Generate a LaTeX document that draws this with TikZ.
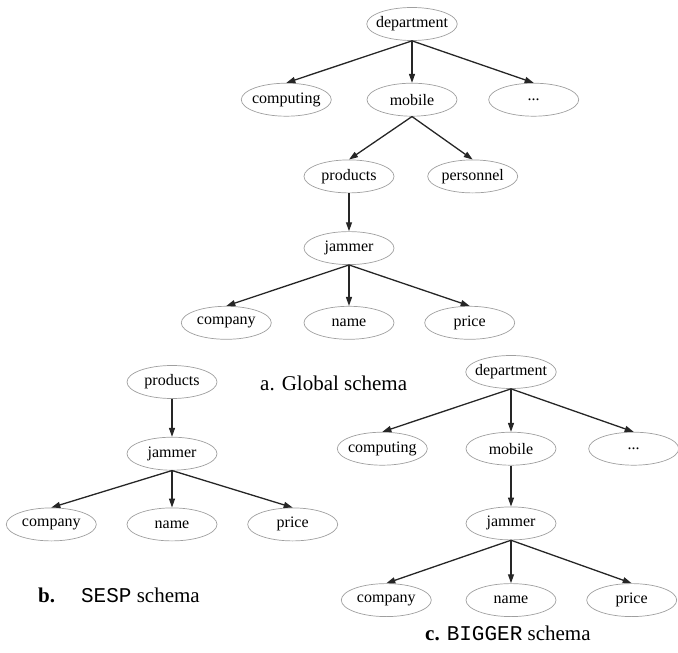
\documentclass[tikz,border=0pt]{standalone}
\usepackage{fontspec}
\setmainfont{Liberation Serif}
\setmonofont{Liberation Mono}
\usetikzlibrary{arrows.meta,shapes.geometric,positioning}
\tikzset{
attr/.style={
  ellipse,
  draw=gray!75,
  line width=0.7pt,
  minimum width=90pt,
  minimum height=33pt,
  inner xsep=-4pt,
  inner ysep=0pt,
  font=\fontsize{16}{18}\selectfont},
link/.style={draw, line width=1.3pt, black!85, -{Triangle[length=9pt,width=6pt]}},
caption/.style={anchor=base west, inner sep=0pt, font=\fontsize{21}{24}\selectfont}
}
\begin{document}
\begin{tikzpicture}[x=1pt,y=-1pt]
    \useasboundingbox (0,0) rectangle (678,653);
    % a. global schema
    \node [attr] (dept) at (412,24) {department};
    \node [attr, below=42pt of dept] (mobile) {mobile};
    \node [attr, left=35pt of mobile] (comp) {computing};
    \node [attr, right=31pt of mobile] (more) {...};
    \node [attr, below=43pt of mobile, xshift=-63pt] (prod) {products};
    \node [attr, right=33pt of prod] (pers) {personnel};
    \node [attr, below=38pt of prod] (jam) {jammer};
    \node [attr, below=41pt of jam] (name) {name};
    \node [attr, left=32pt of name] (compy) {company};
    \node [attr, right=30pt of name] (price) {price};
    \path [link] (dept.south) -- (comp.north);
    \path [link] (dept.south) -- (mobile.north);
    \path [link] (dept.south) -- (more.north);
    \path [link] (mobile.south) -- (prod.north);
    \path [link] (mobile.south) -- (pers.north);
    \path [link] (prod.south) -- (jam.north);
    \path [link] (jam.south) -- (compy.north);
    \path [link] (jam.south) -- (name.north);
    \path [link] (jam.south) -- (price.north);
    \node [caption] (capa) at (260,390) {a. Global schema};
    % b. SESP schema
    \node [attr] (sprod) at (172,382) {products};
    \node [attr, below=38pt of sprod] (sjam) {jammer};
    \node [attr, below=37pt of sjam] (sname) {name};
    \node [attr, left=30pt of sname] (scompy) {company};
    \node [attr, right=30pt of sname] (sprice) {price};
    \path [link] (sprod.south) -- (sjam.north);
    \path [link] (sjam.south) -- (scompy.north);
    \path [link] (sjam.south) -- (sname.north);
    \path [link] (sjam.south) -- (sprice.north);
    \node [caption] (capb) at (38,602) {\textbf{b.}\hspace{26pt}\texttt{SESP} schema};
    % c. BIGGER schema
    \node [attr] (bdept) at (511,372) {department};
    \node [attr, below=43pt of bdept] (bmobile) {mobile};
    \node [attr, left=38pt of bmobile] (bcomp) {computing};
    \node [attr, right=32pt of bmobile] (bmore) {...};
    \node [attr, below=41pt of bmobile] (bjam) {jammer};
    \node [attr, below=43pt of bjam] (bname) {name};
    \node [attr, left=34pt of bname] (bcompy) {company};
    \node [attr, right=30pt of bname] (bprice) {price};
    \path [link] (bdept.south) -- (bcomp.north);
    \path [link] (bdept.south) -- (bmobile.north);
    \path [link] (bdept.south) -- (bmore.north);
    \path [link] (bmobile.south) -- (bjam.north);
    \path [link] (bjam.south) -- (bcompy.north);
    \path [link] (bjam.south) -- (bname.north);
    \path [link] (bjam.south) -- (bprice.north);
    \node [caption] (capc) at (425,640) {\textbf{c.} \texttt{BIGGER} schema};
\end{tikzpicture}
\end{document}
